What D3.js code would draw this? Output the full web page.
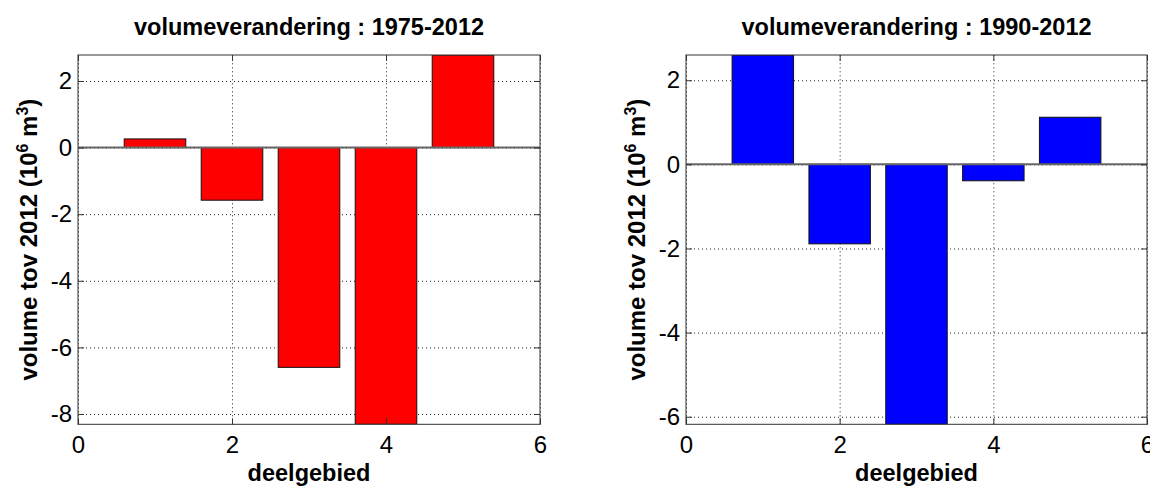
<!DOCTYPE html>
<html>
<head>
<meta charset="utf-8">
<script src="https://cdn.jsdelivr.net/npm/d3@7"></script>
<style>
  body { margin: 0; background: #fff; }
  svg { display: block; font-family: "Liberation Sans", Arial, Helvetica, sans-serif; }
</style>
</head>
<body>
<div id="chart"></div>
<script>
// Data
const deelgebied = [1, 2, 3, 4, 5];
const volume1975 = [0.26, -1.58, -6.6, -8.31, 2.78];
const volume1990 = [2.6, -1.89, -6.18, -0.39, 1.12];
const xTicks = [0, 2, 4, 6];
const yTicks1975 = [-8, -6, -4, -2, 0, 2];
const yTicks1990 = [-6, -4, -2, 0, 2];
const titles = ["volumeverandering : 1975-2012", "volumeverandering : 1990-2012"];

const W = 1150, H = 487;
const svg = d3.select("#chart").append("svg").attr("width", W).attr("height", H);

// plain labels with a hyphen minus, like MATLAB
const plainFormat = (d) => String(d);

// Draw one MATLAB-like bar panel
function drawPanel(opts) {
  const width = opts.right - opts.left;
  const height = opts.bottom - opts.top;
  const g = svg.append("g").attr("transform", `translate(${opts.left},${opts.top})`);

  const xScale = d3.scaleLinear().domain([0, 6]).range([0, width]);
  const yScale = d3.scaleLinear().domain(d3.extent(opts.values)).range([height, 0]);

  // clip for bars that hit the limits
  g.append("clipPath").attr("id", opts.id + "-clip")
    .append("rect").attr("width", width).attr("height", height);

  // dotted grid
  g.append("g")
    .attr("class", "grid")
    .call(d3.axisLeft(yScale).tickValues(opts.yTicks).tickSize(-width).tickFormat(""))
    .call((s) => s.select(".domain").remove());
  g.append("g")
    .attr("class", "grid")
    .attr("transform", `translate(0,${height})`)
    .call(d3.axisBottom(xScale).tickValues(xTicks).tickSize(-height).tickFormat(""))
    .call((s) => s.select(".domain").remove());
  g.selectAll(".grid line")
    .attr("stroke", "#222")
    .attr("stroke-width", 1)
    .attr("stroke-dasharray", "1,3");

  // bars
  const barWidth = 0.8;
  g.append("g")
    .attr("clip-path", `url(#${opts.id}-clip)`)
    .selectAll(".bar")
    .data(opts.values)
    .enter()
    .append("rect")
    .attr("class", "bar")
    .attr("x", (d, i) => xScale(deelgebied[i] - barWidth / 2))
    .attr("width", xScale(barWidth) - xScale(0))
    .attr("y", (d) => yScale(Math.max(0, d)))
    .attr("height", (d) => Math.abs(yScale(d) - yScale(0)))
    .attr("fill", opts.color)
    .attr("stroke", "#111")
    .attr("stroke-width", 1);

  // zero baseline
  g.append("line")
    .attr("x1", 0).attr("x2", width)
    .attr("y1", yScale(0)).attr("y2", yScale(0))
    .attr("stroke", "#666")
    .attr("stroke-width", 2);

  // axes with inward ticks
  const tickLen = 6;
  const left = g.append("g")
    .call(d3.axisLeft(yScale).tickValues(opts.yTicks).tickFormat(plainFormat)
      .tickSizeInner(-tickLen).tickSizeOuter(0).tickPadding(6));
  g.append("g")
    .attr("transform", `translate(${width},0)`)
    .call(d3.axisRight(yScale).tickValues(opts.yTicks).tickSizeInner(-tickLen).tickSizeOuter(0).tickFormat(""));
  const bottom = g.append("g")
    .attr("transform", `translate(0,${height})`)
    .call(d3.axisBottom(xScale).tickValues(xTicks).tickFormat(plainFormat)
      .tickSizeInner(-tickLen).tickSizeOuter(0).tickPadding(12));
  g.append("g")
    .call(d3.axisTop(xScale).tickValues(xTicks).tickSizeInner(-tickLen).tickSizeOuter(0).tickFormat(""));

  g.selectAll(".domain").remove();
  g.selectAll(".tick line").filter(function () { return !this.closest(".grid"); }).attr("stroke", "#333");
  left.selectAll("text").attr("font-size", 24).attr("font-family", null).attr("fill", "#000");
  bottom.selectAll("text").attr("font-size", 24).attr("font-family", null).attr("fill", "#000");

  // box
  g.append("rect")
    .attr("width", width).attr("height", height)
    .attr("fill", "none")
    .attr("stroke", "#333")
    .attr("stroke-width", 1);

  // title
  g.append("text")
    .attr("x", width / 2).attr("y", -20)
    .attr("text-anchor", "middle")
    .attr("font-size", 23.5).attr("font-weight", "bold")
    .text(opts.title);

  // x label
  g.append("text")
    .attr("x", width / 2).attr("y", height + 57)
    .attr("text-anchor", "middle")
    .attr("font-size", 23.5).attr("font-weight", "bold")
    .text("deelgebied");

  // y label with superscripts
  const yl = g.append("text")
    .attr("transform", `translate(-41,${height / 2}) rotate(-90)`)
    .attr("text-anchor", "middle")
    .attr("font-size", 24).attr("font-weight", "bold");
  yl.append("tspan").text("volume tov 2012 (10");
  yl.append("tspan").attr("font-size", 16).attr("dy", -9).text("6");
  yl.append("tspan").attr("dy", 9).text(" m");
  yl.append("tspan").attr("font-size", 16).attr("dy", -9).text("3");
  yl.append("tspan").attr("dy", 9).text(")");
}

drawPanel({ id: "p1", left: 78, right: 540, top: 55, bottom: 424.3, values: volume1975, yTicks: yTicks1975, color: "#ff0000", title: titles[0] });
drawPanel({ id: "p2", left: 686, right: 1147, top: 55, bottom: 424.3, values: volume1990, yTicks: yTicks1990, color: "#0000ff", title: titles[1] });
</script>
</body>
</html>
